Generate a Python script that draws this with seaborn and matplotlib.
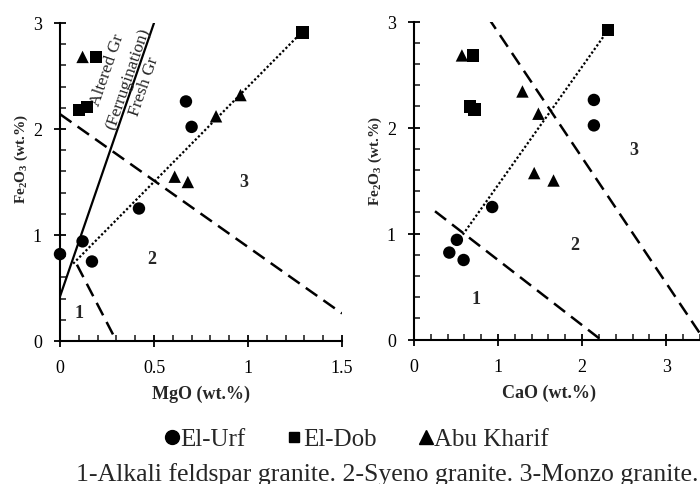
import matplotlib
matplotlib.use("Agg")
import matplotlib.pyplot as plt
import seaborn as sns
import pandas as pd
from matplotlib.lines import Line2D
from matplotlib.ticker import MultipleLocator

sns.set_theme(style="ticks")
plt.rcParams['font.family'] = ['Liberation Serif', 'DejaVu Serif']
plt.rcParams['mathtext.fontset'] = 'custom'
plt.rcParams['mathtext.rm'] = 'Liberation Serif'
plt.rcParams['mathtext.bf'] = 'Liberation Serif:bold'

# ---- data ----
locations = ["El-Urf"] * 6 + ["El-Dob"] * 4 + ["Abu Kharif"] * 5
mgo = [0.00, 0.12, 0.17, 0.42, 0.67, 0.70,
       0.19, 0.10, 0.145, 1.29,
       0.12, 0.61, 0.68, 0.83, 0.96]
cao = [0.42, 0.51, 0.59, 0.93, 2.14, 2.14,
       0.70, 0.665, 0.72, 2.31,
       0.57, 1.29, 1.48, 1.43, 1.66]
fe2o3_mgo = [0.82, 0.94, 0.75, 1.25, 2.26, 2.02,
             2.68, 2.18, 2.21, 2.91,
             2.68, 1.55, 1.50, 2.12, 2.32]
fe2o3_cao = [0.82, 0.94, 0.75, 1.25, 2.26, 2.02,
             2.68, 2.20, 2.17, 2.92,
             2.68, 2.34, 2.13, 1.57, 1.50]

# boundary lines (x, y endpoints)
mgo_fresh_x, mgo_fresh_y = [0.0, 0.50], [0.42, 3.0]
mgo_trend_x, mgo_trend_y = [0.07, 1.29], [0.73, 2.92]
mgo_div23_x, mgo_div23_y = [0.0, 1.5], [2.14, 0.26]
mgo_div12_x, mgo_div12_y = [0.09, 0.30], [0.72, 0.0]
cao_trend_x, cao_trend_y = [0.55, 2.31], [0.955, 2.92]
cao_div23_x, cao_div23_y = [0.88, 3.45], [3.04, 0.0]
cao_div12_x, cao_div12_y = [0.25, 2.22], [1.21, 0.0]

df = pd.DataFrame({"Location": locations, "MgO": mgo, "CaO": cao,
                   "Fe_MgO": fe2o3_mgo, "Fe_CaO": fe2o3_cao})
markers = {"El-Urf": "o", "El-Dob": "s", "Abu Kharif": "^"}
order = ["El-Urf", "El-Dob", "Abu Kharif"]

fig = plt.figure(figsize=(7, 4.85), dpi=100)
ax1 = fig.add_axes([60/700, 1-342/485, 282/700, 318/485])
ax2 = fig.add_axes([414/700, 1-340.5/485, 290/700, 318/485])

dash = (5.6, 3.0)

def style_axis(ax, xmax, xmaj, xmin):
    ax.set_ylim(0, 3)
    ax.set_xlim(0, xmax)
    ax.xaxis.set_major_locator(MultipleLocator(xmaj))
    ax.xaxis.set_minor_locator(MultipleLocator(xmin))
    ax.yaxis.set_major_locator(MultipleLocator(1))
    ax.yaxis.set_minor_locator(MultipleLocator(0.2))
    ax.tick_params(which='major', direction='inout', length=8, width=1.3,
                   labelsize=13, colors='black')
    ax.tick_params(axis='x', which='major', pad=9)
    ax.tick_params(axis='y', which='major', pad=9)
    ax.tick_params(which='minor', direction='in', length=4, width=1.2)
    for s in ['top', 'right']:
        ax.spines[s].set_visible(False)
    for s in ['left', 'bottom']:
        ax.spines[s].set_linewidth(1.5)
        ax.spines[s].set_color('black')
    ax.set_facecolor('white')

# ---- left panel ----
sns.lineplot(x=mgo_fresh_x, y=mgo_fresh_y, ax=ax1, color='black', lw=1.6)
sns.lineplot(x=mgo_trend_x, y=mgo_trend_y, ax=ax1, color='black', lw=1.6,
             linestyle=(0, (1, 1)))
l = sns.lineplot(x=mgo_div23_x, y=mgo_div23_y, ax=ax1, color='black', lw=1.8)
l.lines[-1].set_dashes(dash)
l = sns.lineplot(x=mgo_div12_x, y=mgo_div12_y, ax=ax1, color='black', lw=1.8)
l.lines[-1].set_dashes(dash)
sns.scatterplot(data=df, x="MgO", y="Fe_MgO", style="Location", markers=markers,
                style_order=order, color='black', s=80, edgecolor='black',
                linewidth=0, ax=ax1, legend=False, clip_on=False, zorder=5)
style_axis(ax1, 1.5, 0.5, 0.1)
ax1.set_xticks([0, 0.5, 1, 1.5])
ax1.set_xticklabels(['0', '0.5', '1', '1.5'])
ax1.set_xlabel('MgO (wt.%)', fontsize=13, fontweight='bold')
ax1.xaxis.set_label_coords(0.5, -0.138)
ax1.set_ylabel(r'$\mathbf{Fe_2O_3}$ (wt.%)', fontsize=11, fontweight='bold')
ax1.yaxis.set_label_coords(-0.108, 0.575)

for txt, (tx, ty) in [("Altered Gr", (0.25, 2.56)),
                      ("(Ferrugination)", (0.36, 2.48)),
                      ("Fresh Gr", (0.447, 2.41))]:
    ax1.text(tx, ty, txt, rotation=71, ha='center', va='center',
             rotation_mode='anchor', fontsize=12.5)

for lbl, (tx, ty) in [("1", (0.10, 0.27)), ("2", (0.49, 0.78)), ("3", (0.98, 1.50))]:
    ax1.text(tx, ty, lbl, fontsize=13, fontweight='bold', ha='center', va='center')

# ---- right panel ----
sns.lineplot(x=cao_trend_x, y=cao_trend_y, ax=ax2, color='black', lw=1.6,
             linestyle=(0, (1, 1)))
l = sns.lineplot(x=cao_div23_x, y=cao_div23_y, ax=ax2, color='black', lw=1.8)
l.lines[-1].set_dashes(dash)
l = sns.lineplot(x=cao_div12_x, y=cao_div12_y, ax=ax2, color='black', lw=1.8)
l.lines[-1].set_dashes(dash)
sns.scatterplot(data=df, x="CaO", y="Fe_CaO", style="Location", markers=markers,
                style_order=order, color='black', s=80, edgecolor='black',
                linewidth=0, ax=ax2, legend=False, zorder=5)
style_axis(ax2, 3.45, 1, 0.2)
ax2.set_xticks([0, 1, 2, 3])
ax2.set_xlabel('CaO (wt.%)', fontsize=13, fontweight='bold')
ax2.xaxis.set_label_coords((549.5-414)/290, -0.138)
ax2.set_ylabel(r'$\mathbf{Fe_2O_3}$ (wt.%)', fontsize=11, fontweight='bold')
ax2.yaxis.set_label_coords((384-414)/290, 0.565)
for lbl, (tx, ty) in [("1", (0.74, 0.39)), ("2", (1.91, 0.90)), ("3", (2.62, 1.79))]:
    ax2.text(tx, ty, lbl, fontsize=13, fontweight='bold', ha='center', va='center')

# ---- legend & caption ----
msizes = {"El-Urf": 10, "El-Dob": 7.5, "Abu Kharif": 10}
handles = [Line2D([], [], marker=markers[k], color='black', linestyle='none',
                  markersize=msizes[k]) for k in order]
fig.legend(handles, order, loc='center', bbox_to_anchor=(356/700, 1-440/485),
           ncol=3, frameon=False, fontsize=18, handletextpad=0.0,
           columnspacing=1.6, handlelength=0.7, borderpad=0, borderaxespad=0)
fig.text(387/700, 1-481/485,
         "1-Alkali feldspar granite. 2-Syeno granite. 3-Monzo granite.",
         ha='center', va='baseline', fontsize=18.5)

fig.savefig("out.png", dpi=100, facecolor='white')
